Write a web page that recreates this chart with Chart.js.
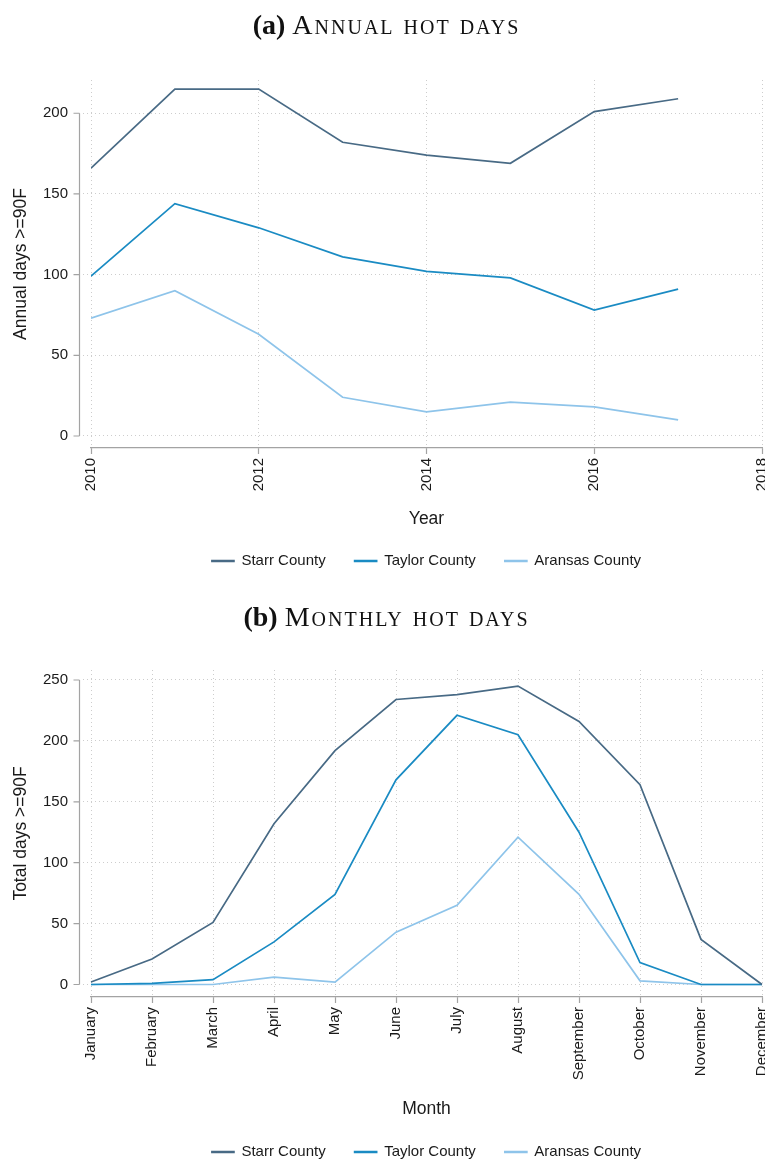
<!DOCTYPE html>
<html>
<head>
<meta charset="utf-8">
<script src="https://cdn.jsdelivr.net/npm/chart.js@4.4.1/dist/chart.umd.min.js"></script>
<style>
  html, body { margin: 0; padding: 0; background: #fff; overflow: hidden; }
  #page { position: relative; width: 765px; height: 1160px; overflow: hidden; background: #fff; }
  canvas { position: absolute; left: 0; }
  .panel-title {
    position: absolute; left: 0; width: 773px; z-index: 2;
    text-align: center; font-family: "Liberation Serif", "DejaVu Serif", serif;
    font-size: 28px; line-height: 30px; color: #111; white-space: nowrap;
  }
  .panel-title .sc { font-variant: small-caps; letter-spacing: 2px; }
</style>
</head>
<body>
<div id="page">
  <canvas id="annual" width="765" height="580" style="top:0"></canvas>
  <canvas id="monthly" width="765" height="600" style="top:580px"></canvas>
  <div class="panel-title" style="top:10px"><b>(a)</b> <span class="sc">Annual hot days</span></div>
  <div class="panel-title" style="top:602px"><b>(b)</b> <span class="sc">Monthly hot days</span></div>
</div>
<script>
// ---- data ----
const seriesNames = ['Starr County', 'Taylor County', 'Aransas County'];
const seriesColors = ['#486a85', '#1a8bc3', '#8ec4ea'];

const years = [2010, 2011, 2012, 2013, 2014, 2015, 2016, 2017];
const yearTicks = [2010, 2012, 2014, 2016, 2018];
const starrAnnual   = [166, 215, 215, 182, 174, 169, 201, 209];
const taylorAnnual  = [99, 144, 129, 111, 102, 98, 78, 91];
const aransasAnnual = [73, 90, 63, 24, 15, 21, 18, 10];
const annualTicks = [0, 50, 100, 150, 200];

const months = ['January', 'February', 'March', 'April', 'May', 'June', 'July',
                'August', 'September', 'October', 'November', 'December'];
const starrMonthly   = [2, 21, 51, 132, 192, 234, 238, 245, 216, 164, 37, 0];
const taylorMonthly  = [0, 1, 4, 35, 74, 168, 221, 205, 125, 18, 0, 0];
const aransasMonthly = [0, 0, 0, 6, 2, 43, 65, 121, 74, 3, 0, 0];
const monthlyTicks = [0, 50, 100, 150, 200, 250];

// ---- styling ----
const INK = '#1a1a1a';
const GRID = '#cdcdcd';
const AXIS = '#a3a3a3';
Chart.defaults.font.family = "'Liberation Sans', Arial, sans-serif";
Chart.defaults.color = INK;

// Stata-style left axis: a short line spanning only the labelled range, set off from the plot region
const leftAxisLine = {
  id: 'leftAxisLine',
  afterDraw(chart) {
    const ys = chart.scales.y;
    const ctx = chart.ctx;
    const x = Math.round(chart.chartArea.left - 12) + 0.5;
    const px = ys.ticks.map(t => ys.getPixelForValue(t.value));
    ctx.save();
    ctx.strokeStyle = AXIS;
    ctx.lineWidth = 1.2;
    ctx.beginPath();
    ctx.moveTo(x, Math.min(...px));
    ctx.lineTo(x, Math.max(...px));
    px.forEach(p => { ctx.moveTo(x - 6, p); ctx.lineTo(x, p); });
    ctx.stroke();
    ctx.restore();
  }
};

function lineSet(label, data, color) {
  return {
    label, data, borderColor: color, backgroundColor: color,
    borderWidth: 1.7, pointRadius: 0, pointHoverRadius: 0, tension: 0, fill: false
  };
}

function yScale(min, max, tickValues, title) {
  return {
    type: 'linear', position: 'left', min, max,
    afterBuildTicks: s => { s.ticks = tickValues.map(v => ({ value: v })); },
    afterFit: s => { s.width = 91; },
    grid: { color: GRID, lineWidth: 1, drawTicks: true, tickLength: 8, tickColor: GRID, tickBorderDash: [1, 3] },
    border: { display: false, dash: [1, 3] },
    ticks: { padding: 15, color: INK, font: { size: 15 }, callback: v => String(v) },
    title: { display: true, text: title, color: INK, font: { size: 17.5 }, padding: { top: 11, bottom: 0 } }
  };
}

function xCommon(height, title, titleLineHeight) {
  return {
    afterFit: s => { s.height = height; s.paddingLeft = 0; s.paddingRight = 0; },
    grid: { color: GRID, lineWidth: 1, drawTicks: true, tickLength: 6, tickColor: AXIS, tickWidth: 1.2, tickBorderDash: [] },
    border: { display: true, color: AXIS, width: 1.2, dash: [1, 3] },
    ticks: { minRotation: 90, maxRotation: 90, autoSkip: false, padding: 4, color: INK, font: { size: 15 } },
    title: { display: true, text: title, color: INK, font: { size: 17.5, lineHeight: titleLineHeight }, padding: { top: 0, bottom: 0 } }
  };
}

const legendOpts = {
  position: 'bottom', fullSize: false,
  labels: { boxWidth: 22, boxHeight: 1, padding: 29, color: INK, font: { size: 15 } }
};

// ---- (a) annual hot days ----
const xAnnual = xCommon(76.5, 'Year', '11px');
Object.assign(xAnnual, {
  type: 'linear', min: 2010, max: 2018,
  afterBuildTicks: s => { s.ticks = yearTicks.map(v => ({ value: v })); }
});
xAnnual.ticks.callback = v => String(v);

new Chart(document.getElementById('annual'), {
  type: 'line',
  data: {
    datasets: [
      lineSet(seriesNames[0], years.map((yr, i) => ({ x: yr, y: starrAnnual[i] })), seriesColors[0]),
      lineSet(seriesNames[1], years.map((yr, i) => ({ x: yr, y: taylorAnnual[i] })), seriesColors[1]),
      lineSet(seriesNames[2], years.map((yr, i) => ({ x: yr, y: aransasAnnual[i] })), seriesColors[2])
    ]
  },
  options: {
    responsive: false, animation: false, devicePixelRatio: 1, events: [],
    layout: { padding: { top: 80, right: 3, bottom: 1.5, left: 0 } },
    scales: { x: xAnnual, y: yScale(-7.44, 220.6, annualTicks, 'Annual days >=90F') },
    plugins: { legend: legendOpts, tooltip: { enabled: false } }
  },
  plugins: [leftAxisLine]
});

// ---- (b) monthly hot days ----
const xMonthly = xCommon(118.5, 'Month', '13px');
xMonthly.type = 'category';

new Chart(document.getElementById('monthly'), {
  type: 'line',
  data: {
    labels: months,
    datasets: [
      lineSet(seriesNames[0], starrMonthly, seriesColors[0]),
      lineSet(seriesNames[1], taylorMonthly, seriesColors[1]),
      lineSet(seriesNames[2], aransasMonthly, seriesColors[2])
    ]
  },
  options: {
    responsive: false, animation: false, devicePixelRatio: 1, events: [],
    layout: { padding: { top: 90, right: 3, bottom: 10.5, left: 0 } },
    scales: { x: xMonthly, y: yScale(-10.26, 258.2, monthlyTicks, 'Total days >=90F') },
    plugins: { legend: legendOpts, tooltip: { enabled: false } }
  },
  plugins: [leftAxisLine]
});
</script>
</body>
</html>
